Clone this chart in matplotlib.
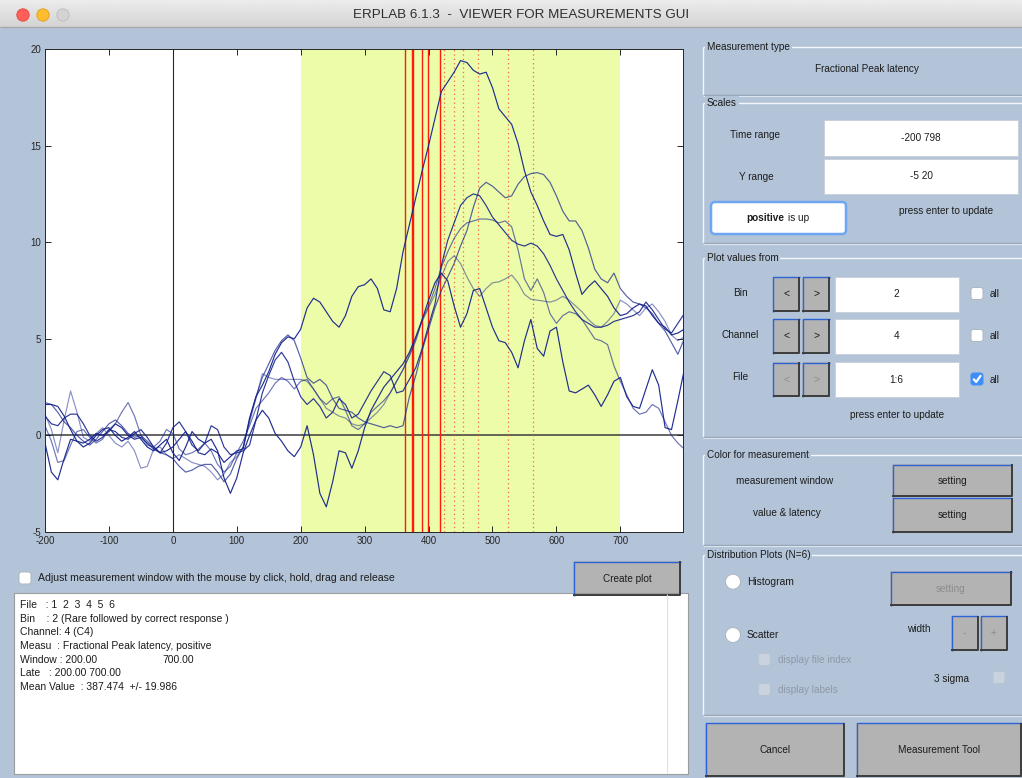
import numpy as np
import matplotlib
matplotlib.use("Agg")
import matplotlib.pyplot as plt
from matplotlib.patches import Rectangle, Circle, FancyBboxPatch

plt.rcParams['font.family'] = ['Liberation Sans', 'DejaVu Sans']
plt.rcParams['axes.unicode_minus'] = False

# ---------------------------------------------------------------- data
times = np.arange(-200, 801, 10)          # ms

wave_1 = [
    1.6, 1.6, 1.5, 1.0, 0.3, -0.3, -0.4, -0.2, 0.1, 0.0,
    0.2, 0.6, 0.4, 0.0, -0.2, -0.1, -0.4, -0.7, -0.9, -0.8,
    -0.6, -0.2, 0.2, -0.3, -0.9, -1.0, -0.7, -0.9, -1.4, -1.1,
    -0.8, -0.7, 0.9, 2.0, 2.6, 3.3, 4.2, 4.8, 5.1, 5.0,
    5.5, 6.6, 7.1, 6.9, 6.4, 5.9, 5.6, 6.2, 7.2, 7.7,
    7.8, 8.1, 7.6, 6.5, 6.4, 7.6, 9.5, 10.9, 12.3, 13.7,
    15.0, 16.4, 17.8, 18.3, 18.8, 19.4, 19.3, 18.9, 18.7, 18.8,
    18.0, 16.9, 16.5, 16.1, 15.1, 13.7, 12.6, 11.9, 11.1, 10.4,
    10.3, 10.4, 9.6, 8.4, 7.3, 7.7, 8.0, 7.6, 7.2, 6.6,
    6.2, 6.3, 6.6, 6.8, 6.7, 6.2, 5.8, 5.6, 5.2, 5.3,
    5.5]
wave_2 = [
    1.7, 1.6, 1.2, 0.7, 0.4, 0.0, -0.3, -0.5, -0.2, 0.2,
    0.6, 0.8, 0.5, 0.1, -0.1, 0.0, -0.3, -0.6, -0.9, -1.0,
    -1.2, -1.6, -1.9, -1.8, -1.6, -1.5, -1.5, -1.9, -2.4, -2.0,
    -1.2, -0.6, 0.8, 2.0, 3.0, 3.7, 4.4, 4.9, 5.2, 4.9,
    4.0, 3.0, 2.7, 2.9, 2.6, 1.9, 1.4, 1.3, 1.2, 0.9,
    0.7, 0.6, 0.5, 0.4, 0.5, 0.4, 0.5, 2.0, 3.1, 4.4,
    5.5, 6.6, 7.5, 8.2, 8.9, 9.8, 10.6, 11.8, 12.8, 13.1,
    12.9, 12.6, 12.3, 12.4, 13.0, 13.4, 13.55, 13.6, 13.5, 13.1,
    12.4, 11.6, 11.1, 11.1, 10.6, 9.7, 8.6, 8.1, 7.9, 8.4,
    7.6, 7.2, 6.9, 6.8, 6.6, 6.3, 5.8, 5.4, 4.8, 4.2,
    5.0]
wave_3 = [
    1.0, 0.6, 0.5, 0.9, 1.1, 1.1, 0.6, 0.0, -0.3, -0.1,
    0.3, 0.2, -0.1, -0.2, 0.1, 0.3, -0.1, -0.6, -0.9, -0.4,
    0.4, 0.7, 0.2, -0.5, -0.8, -0.4, 0.5, 0.3, -0.6, -1.0,
    -0.9, -0.8, -0.5, 0.8, 2.2, 3.1, 3.9, 4.3, 3.8, 2.8,
    2.0, 1.6, 1.9, 1.5, 0.9, 1.2, 1.9, 1.6, 0.9, 1.1,
    1.7, 2.3, 2.8, 3.3, 3.1, 2.2, 2.3, 2.9, 3.5, 4.5,
    5.7, 6.8, 8.8, 10.1, 11.0, 11.9, 12.3, 12.5, 12.4, 11.9,
    11.3, 10.9, 10.5, 10.1, 9.9, 9.8, 9.95, 9.8, 9.4, 8.8,
    8.1, 7.5, 6.9, 6.4, 6.0, 5.8, 5.6, 5.6, 5.7, 5.9,
    6.0, 6.1, 6.2, 6.4, 6.9, 6.5, 6.0, 5.5, 5.3, 5.8,
    6.3]
wave_4 = [
    0.5, -0.3, -1.4, -1.3, -0.5, 0.2, 0.3, -0.1, -0.4, -0.2,
    0.3, 0.6, 1.2, 1.7, 1.0, 0.0, -0.5, -0.6, -0.3, 0.3,
    0.1, -0.7, -1.0, -0.9, -0.7, -0.4, -0.8, -1.5, -1.9, -1.6,
    -0.9, -0.3, 0.5, 1.4, 1.8, 2.2, 2.7, 3.0, 2.8, 2.4,
    2.8, 2.9, 2.4, 1.9, 1.6, 1.9, 2.0, 1.3, 0.5, 0.3,
    0.6, 1.2, 1.5, 1.8, 2.2, 2.8, 3.4, 4.1, 4.9, 6.0,
    6.7, 7.6, 8.7, 9.5, 10.2, 10.7, 11.0, 11.1, 11.2, 11.2,
    11.15, 11.0, 11.1, 10.8, 9.6, 8.1, 7.5, 8.1, 7.4, 6.3,
    5.8, 6.2, 6.4, 6.3, 6.0, 5.5, 5.0, 4.9, 4.7, 3.6,
    2.8, 2.1, 1.4, 1.1, 1.2, 1.6, 1.4, 0.7, 0.0, -0.4,
    -0.7]
wave_5 = [
    -0.4, -1.9, -2.3, -1.2, -0.2, -0.3, -0.6, -0.4, 0.0, 0.3,
    0.4, 0.0, -0.3, -0.1, 0.2, -0.2, -0.6, -0.8, -0.5, -0.2,
    -0.9, -1.3, -0.6, 0.2, -0.2, -0.4, -0.2, -0.8, -2.2, -3.0,
    -2.2, -0.9, 0.0, 0.8, 1.3, 0.9, 0.1, -0.3, -0.8, -1.1,
    -0.6, 0.5, -1.0, -3.0, -3.7, -2.4, -0.8, -0.9, -1.7, -0.8,
    0.4, 1.3, 1.9, 2.5, 2.9, 3.3, 3.7, 4.3, 5.1, 6.0,
    7.0, 7.9, 8.4, 8.0, 6.7, 5.6, 6.3, 7.5, 7.6, 6.6,
    5.6, 4.9, 4.8, 4.3, 3.5, 4.9, 6.0, 4.5, 4.1, 5.4,
    5.6, 3.8, 2.3, 2.2, 2.4, 2.6, 2.1, 1.5, 2.1, 2.8,
    3.0, 2.0, 1.5, 1.4, 2.4, 3.4, 2.6, 0.4, 0.3, 1.8,
    3.4]
wave_6 = [
    1.1, 0.3, -0.9, 0.8, 2.3, 1.2, -0.1, -0.3, 0.1, 0.4,
    0.0, -0.4, -0.6, -0.3, -0.8, -1.7, -1.6, -0.7, -0.6, -1.0,
    -1.2, -1.0, -1.2, -1.4, -1.5, -1.6, -1.9, -2.3, -2.0, -1.4,
    -1.1, -0.6, 0.7, 1.9, 3.2, 3.0, 2.9, 2.9, 2.9, 2.9,
    2.9, 2.8, 2.4, 1.9, 1.4, 1.2, 1.0, 0.9, 0.6, 0.5,
    0.6, 0.9, 1.2, 1.6, 2.2, 2.8, 3.4, 4.2, 5.0, 5.9,
    6.6, 7.3, 8.2, 9.0, 9.3, 8.9, 8.2, 7.6, 7.2, 7.6,
    7.9, 7.95, 8.1, 8.3, 7.9, 7.3, 7.05, 7.0, 6.95, 6.9,
    7.0, 7.2, 7.0, 6.7, 6.4, 6.0, 5.7, 5.6, 5.9, 6.3,
    7.0, 6.8, 6.5, 6.2, 6.6, 6.8, 6.4, 5.9, 5.2, 4.9,
    5.1]
waves = [wave_1, wave_2, wave_3, wave_4, wave_5, wave_6]
wave_alpha = [0.95, 0.72, 0.9, 0.62, 0.95, 0.5]

window = (200, 700)
frac_peak_latency = [363.6, 374.6, 375.0, 390.2, 399.1, 417.9]
peak_latency = [424.9, 439.5, 454.2, 476.9, 525.0, 564.1]

x_ticks = list(range(-200, 701, 100))
y_ticks = [-5, 0, 5, 10, 15, 20]

info_lines = [
    "File   : 1  2  3  4  5  6",
    "Bin    : 2 (Rare followed by correct response )",
    "Channel: 4 (C4)",
    "Measu  : Fractional Peak latency, positive",
    "Window : 200.00",
    "Late   : 200.00 700.00",
    "Mean Value  : 387.474  +/- 19.986",
]

# ---------------------------------------------------------------- styling
BG = '#B3C4D9'
YELLOW = '#EDFCA8'
NAVY = '#15238C'
TXT = '#1C1C1C'
BTN = '#B3B3B3'

fig = plt.figure(figsize=(10.22, 7.78), dpi=100)
fig.patch.set_facecolor(BG)

gui = fig.add_axes([0, 0, 1, 1])
gui.set_xlim(0, 1022)
gui.set_ylim(778, 0)
gui.axis('off')
gui.set_zorder(0)


def rect(x0, y0, x1, y1, fc, ec='none', lw=0, z=1):
    gui.add_patch(Rectangle((x0, y0), x1 - x0, y1 - y0, facecolor=fc,
                            edgecolor=ec, linewidth=lw, zorder=z))


def seg(xs, ys, color, lw=1.0, z=2):
    gui.plot(xs, ys, color=color, lw=lw, zorder=z, solid_capstyle='butt')


def label(x, y, s, size=7.2, ha='center', color=TXT, weight='normal', z=5, bbox=None):
    gui.text(x, y, s, ha=ha, va='center', fontsize=size, color=color,
             fontweight=weight, zorder=z, bbox=bbox)


def button(x0, y0, x1, y1, text, enabled=True, size=7.2):
    rect(x0, y0, x1, y1, BTN, z=2)
    seg([x0 + 0.5, x0 + 0.5, x1], [y1, y0 + 0.5, y0 + 0.5], '#2E63D6', 1.0, z=3)
    seg([x0, x1 - 0.7, x1 - 0.7], [y1 - 0.7, y1 - 0.7, y0], '#3C3C3C', 1.4, z=3)
    label((x0 + x1) / 2, (y0 + y1) / 2, text, size=size,
          color=TXT if enabled else '#8C8C8C')


def textbox(x0, y0, x1, y1, text):
    rect(x0, y0, x1, y1, 'white', ec='#C9CFD8', lw=0.6, z=2)
    label((x0 + x1) / 2, (y0 + y1) / 2, text)


def checkbox(x, y, checked=False, enabled=True):
    fc = '#3D8EF6' if checked else ('white' if enabled else '#C9D3E0')
    ec = '#3D8EF6' if checked else ('#AEB6C0' if enabled else '#BAC4D1')
    gui.add_patch(FancyBboxPatch((x, y), 12, 12, boxstyle='round,pad=0,rounding_size=2.5',
                                 facecolor=fc, edgecolor=ec, linewidth=0.7, zorder=3))
    if checked:
        gui.plot([x + 2.8, x + 5.2, x + 9.5], [y + 6.3, y + 9.0, y + 2.8],
                 color='white', lw=1.6, zorder=4, solid_capstyle='round')


def radio(x, y):
    gui.add_patch(Circle((x, y), 7.5, facecolor='white', edgecolor='#AEB6C0',
                         linewidth=0.7, zorder=3))


def group(title, y0, y1):
    seg([702.5, 1022], [y0, y0], '#F3F6FA', 1.0)
    seg([702.5, 702.5], [y0, y1], '#F3F6FA', 1.0)
    seg([702.5, 1022], [y1, y1], '#97A4B5', 1.0)
    seg([703, 1022], [y1 + 1, y1 + 1], '#DCE4EE', 0.8)
    label(707, y0, title, ha='left', size=7.2,
          bbox=dict(facecolor=BG, edgecolor='none', pad=1.2))


# ---------------------------------------------------------------- title bar
grad = np.linspace(0.925, 0.83, 40)[:, None]
gui.imshow(grad, cmap='gray', vmin=0, vmax=1, extent=[0, 1022, 27, 0],
           aspect='auto', zorder=1, interpolation='bilinear')
gui.set_xlim(0, 1022)
gui.set_ylim(778, 0)
seg([0, 1022], [27, 27], '#A9A9A9', 1.0)
for cx, fc, ec in [(23, '#FE5F57', '#E2463F'), (43, '#FEBC2E', '#DFA023'),
                   (63, '#D3D3D3', '#BDBDBD')]:
    gui.add_patch(Circle((cx, 15), 6.2, facecolor=fc, edgecolor=ec, lw=0.6, zorder=3))
label(521, 15, "ERPLAB 6.1.3  -  VIEWER FOR MEASUREMENTS GUI", size=9.6, color='#2E2E2E')

# ---------------------------------------------------------------- waveform axes
ax = fig.add_axes([45 / 1022, 1 - 532 / 778, 638 / 1022, 483 / 778])
ax.set_zorder(5)
ax.set_facecolor('white')
ax.axvspan(*window, color=YELLOW, lw=0, zorder=0)
ax.axvline(0, color='#2A2A2A', lw=0.8, zorder=1)
ax.axhline(0, color='#3A3A3A', lw=1.1, zorder=1)
for lat in frac_peak_latency:
    ax.axvline(lat, color='#FF1A0A', lw=1.0, zorder=2)
for lat in peak_latency:
    ax.axvline(lat, color='#FF4A2A', lw=0.9, ls=(0, (1, 2.5)), alpha=0.85, zorder=2)
for w, a in zip(waves, wave_alpha):
    ax.plot(times, w, color=NAVY, lw=0.85, alpha=a, zorder=3)

ax.set_xlim(-200, 798)
ax.set_ylim(-5, 20)
ax.set_xticks(x_ticks)
ax.set_yticks(y_ticks)
ax.tick_params(direction='in', top=True, right=True, length=4, width=0.7,
               labelsize=7, colors='#262626', pad=3)
for sp in ax.spines.values():
    sp.set_color('#262626')
    sp.set_linewidth(0.7)

# ---------------------------------------------------------------- left lower area
checkbox(19, 572)
label(38, 578, "Adjust measurement window with the mouse by click, hold, drag and release",
      ha='left', size=7.6)
button(573, 561, 681, 596, "Create plot")

rect(14, 593, 688, 774, 'white', ec='#9C9C9C', lw=0.8, z=2)
seg([667, 667], [594, 773], '#E1E1E1', 0.8, z=3)
for i, s in enumerate(info_lines):
    label(20, 605 + 13.7 * i, s, ha='left', size=7.5)
label(162, 605 + 13.7 * 4, "700.00", ha='left', size=7.5)

# ---------------------------------------------------------------- right panel
group("Measurement type", 46.7, 95)
label(867, 69, "Fractional Peak latency")

group("Scales", 102.7, 243)
label(755, 135, "Time range")
textbox(824, 120, 1018, 155.5, "-200 798")
label(756, 176.5, "Y range")
textbox(824, 158.5, 1018, 194, "-5 20")
gui.add_patch(FancyBboxPatch((711, 202), 135, 32, boxstyle='round,pad=0,rounding_size=4',
                             facecolor='white', edgecolor='#6FA6F2', linewidth=1.8, zorder=3))
label(784, 218, "positive", ha='right', weight='bold', size=7.2)
label(788, 218, "is up", ha='left', size=7.2)
label(946, 211, "press enter to update")

group("Plot values from", 258.3, 437)
rows = [("Bin", "2", 294, True, False), ("Channel", "4", 336, True, False),
        ("File", "1:6", 379.5, False, True)]
for name, val, yc, enabled, checked in rows:
    label(740, yc - 1.5 if name != "File" else yc - 3, name)
    button(772.7, yc - 17.5, 800, yc + 17.5, "<", enabled=enabled, size=7.5)
    button(802.3, yc - 17.5, 830, yc + 17.5, ">", enabled=enabled, size=7.5)
    textbox(834.5, yc - 17.5, 959, yc + 17.5, val)
    checkbox(971, yc - 6.5, checked=checked)
    label(995, yc, "all", size=7.2)
label(897, 415, "press enter to update")

group("Color for measurement", 455, 545)
label(785, 480.7, "measurement window")
button(892.3, 464, 1012.3, 497, "setting")
label(787, 513.3, "value & latency")
button(892.3, 497.5, 1012.3, 532.7, "setting")

group("Distribution Plots (N=6)", 555, 715)
radio(733, 581.7)
label(747, 582, "Histogram", ha='left', size=7.4)
button(890, 571, 1011.7, 606, "setting", enabled=False)
radio(733, 635)
label(747, 635, "Scatter", ha='left', size=7.4)
label(918.5, 629.5, "width")
button(951, 615.7, 978.3, 651, "-", enabled=False)
button(980.3, 615.7, 1007.3, 651, "+", enabled=False)
checkbox(758.3, 653.5, enabled=False)
label(778.5, 660, "display file index", ha='left', color='#8F99A6')
checkbox(758.3, 683.5, enabled=False)
label(778.5, 690, "display labels", ha='left', color='#8F99A6')
label(952, 678.5, "3 sigma")
checkbox(993, 671.5, enabled=False)

button(705, 722.7, 844.3, 777, "Cancel")
button(856.3, 722.7, 1022, 777, "Measurement Tool")

fig.savefig("out.png", dpi=100, facecolor=BG)
